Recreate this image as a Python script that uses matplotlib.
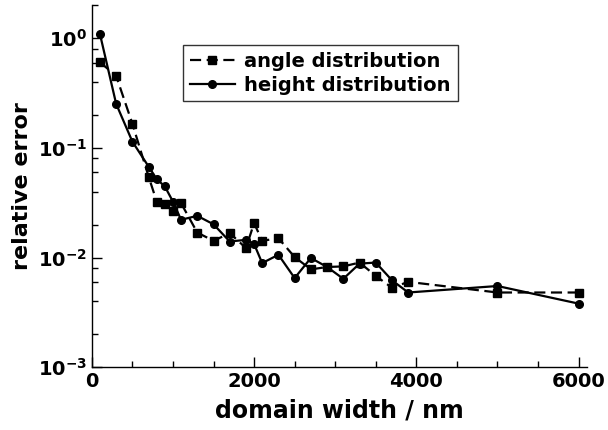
import numpy as np
import matplotlib
matplotlib.use('Agg')
import matplotlib.pyplot as plt
from matplotlib.ticker import LogLocator, MultipleLocator, NullFormatter

# domain width (nm)
width_angle = [100, 300, 500, 700, 800, 900, 1000, 1100, 1300, 1500, 1700, 1900, 2000,
               2100, 2300, 2500, 2700, 2900, 3100, 3300, 3500, 3700, 3900, 5000, 6000]
err_angle = [0.604, 0.453, 0.166, 0.0547, 0.0324, 0.0306, 0.0268, 0.0313, 0.0169, 0.0142,
             0.0167, 0.0122, 0.0206, 0.0142, 0.0150, 0.0101, 0.0078, 0.0082, 0.0083, 0.0090,
             0.0068, 0.0053, 0.0060, 0.0048, 0.0048]

width_height = [100, 300, 500, 700, 800, 900, 1000, 1100, 1300, 1500, 1700, 1900, 2000,
                2100, 2300, 2500, 2700, 2900, 3100, 3300, 3500, 3700, 3900, 5000, 6000]
err_height = [1.094, 0.252, 0.114, 0.0675, 0.0519, 0.0445, 0.0324, 0.0221, 0.0240, 0.0201,
              0.0140, 0.0145, 0.0133, 0.0089, 0.0106, 0.0065, 0.0099, 0.0082, 0.0064, 0.0088,
              0.0090, 0.0062, 0.0048, 0.0055, 0.0038]

plt.rcParams['font.family'] = 'DejaVu Sans'
plt.rcParams['font.weight'] = 'bold'

fig = plt.figure(figsize=(6.08, 4.30), dpi=100)
ax = fig.add_axes([0.151, 0.146, 0.814, 0.842])

ax.plot(width_angle, err_angle, '--', color='black', marker='s', ms=5.5, lw=1.6,
        dashes=(5, 2.5), label='angle distribution')
ax.plot(width_height, err_height, '-', color='black', marker='o', ms=5.5, lw=1.6,
        label='height distribution')

ax.set_yscale('log')
ax.set_ylim(1e-3, 2)
ax.set_xlim(0, 6100)
ax.xaxis.set_major_locator(MultipleLocator(2000))
ax.xaxis.set_minor_locator(MultipleLocator(500))
ax.yaxis.set_major_locator(LogLocator(base=10))
ax.yaxis.set_minor_locator(LogLocator(base=10, subs=(2, 4, 6, 8)))
ax.yaxis.set_minor_formatter(NullFormatter())

for s in ['top', 'right']:
    ax.spines[s].set_visible(False)
for s in ['left', 'bottom']:
    ax.spines[s].set_linewidth(1.0)

ax.tick_params(which='major', direction='in', length=7, width=1, labelsize=14)
ax.tick_params(which='minor', direction='in', length=4, width=1)
for lab in ax.get_xticklabels() + ax.get_yticklabels():
    lab.set_fontweight('bold')

ax.set_xlabel('domain width / nm', fontsize=17, fontweight='bold', labelpad=5)
ax.set_ylabel('relative error', fontsize=16, fontweight='bold')

leg = ax.legend(loc='upper left', bbox_to_anchor=(183 / 608, 1 - 45 / 430),
                bbox_transform=fig.transFigure, fontsize=14, frameon=True,
                fancybox=False, handlelength=2.3, borderaxespad=0, borderpad=0.35,
                labelspacing=0.25, handletextpad=0.5)
leg.get_frame().set_edgecolor('black')
leg.get_frame().set_linewidth(1.0)
for t in leg.get_texts():
    t.set_fontweight('bold')

fig.savefig('out.png', dpi=100)
